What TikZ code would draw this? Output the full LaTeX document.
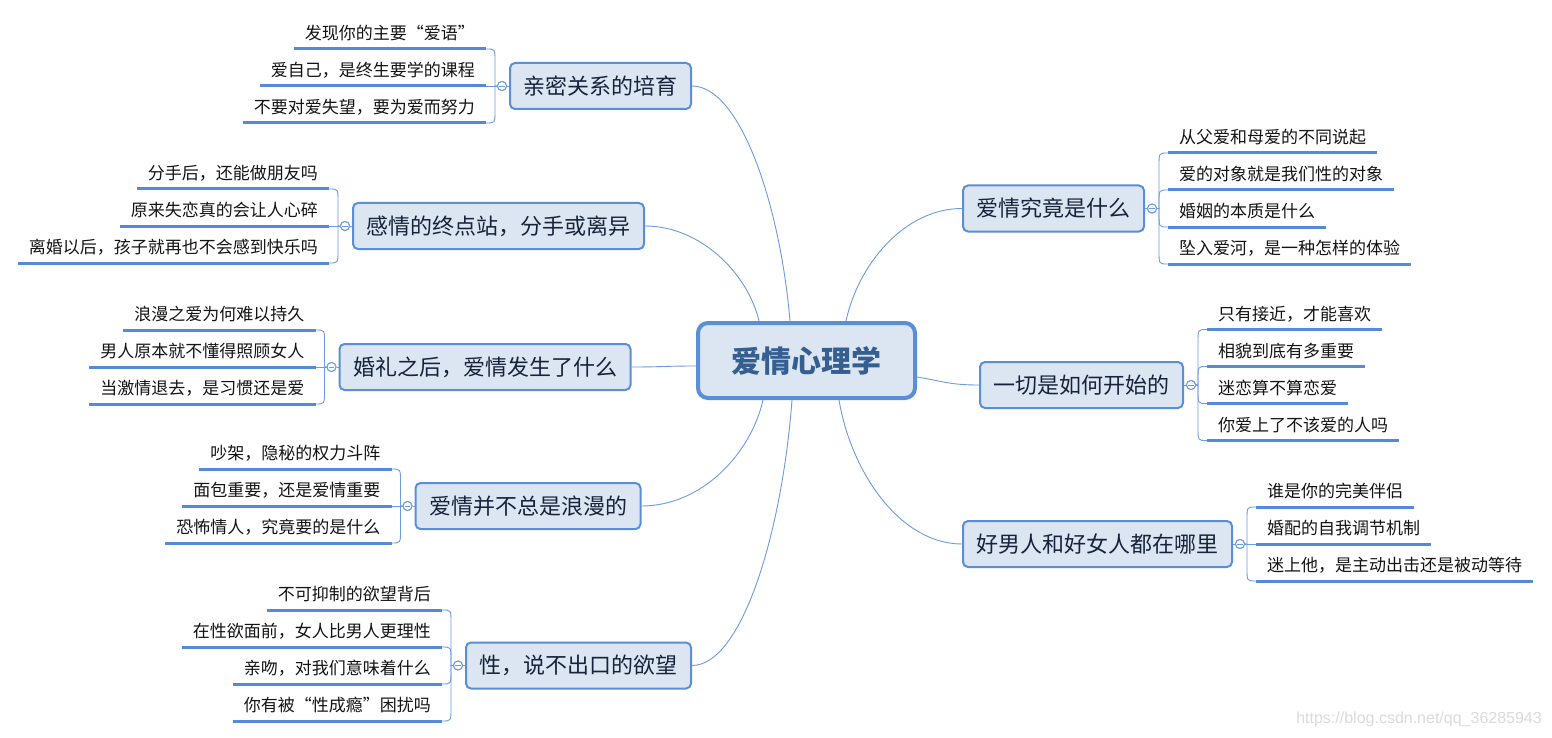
\documentclass[tikz,border=0pt]{standalone}
\usepackage{fontspec}
\setmainfont{Noto Sans CJK SC}
\newfontfamily\wmfont{Liberation Sans}
\definecolor{boxfill}{HTML}{DCE6F2}
\definecolor{boxline}{HTML}{5A8ED6}
\definecolor{roottext}{HTML}{365F91}
\definecolor{topictext}{HTML}{17233B}
\definecolor{leafcol}{HTML}{558BD6}
\definecolor{conncol}{HTML}{6C9BE0}
\definecolor{leaftext}{HTML}{141414}
\tikzset{
  rootbox/.style={draw=boxline, line width=4pt, fill=boxfill, rounded corners=10pt,
    minimum width=217pt, minimum height=75pt, inner sep=0pt,
    font=\fontsize{30}{30}\selectfont\bfseries, text=roottext},
  topicbox/.style={draw=boxline, line width=2pt, fill=boxfill, rounded corners=5pt,
    minimum height=46pt, inner xsep=13.5pt, inner ysep=0pt,
    font=\fontsize{22}{22}\selectfont, text=topictext},
  fold/.style={circle, draw=conncol, line width=1pt, fill=white, minimum size=9pt, inner sep=0pt,
    path picture={\draw[conncol, line width=0.8pt]
      ([xshift=-2.6pt]path picture bounding box.center) -- ([xshift=2.6pt]path picture bounding box.center);}},
  leafbox/.style={font=\fontsize{17}{17}\selectfont, text=leaftext, inner xsep=11pt,
    inner ysep=9pt, text depth=0pt},
  leafline/.style={draw=leafcol, line width=3pt},
  conn/.style={draw=conncol, line width=0.9pt},
  wmark/.style={font=\wmfont\fontsize{16}{16}\selectfont, text=black!14, inner sep=0pt}
}
% brackets: #1 fold node, #2 leaf node
\newcommand\brkUL[2]{\draw[conn] (#1.west) -- ([xshift=9pt]#2.south east |- #1.center) -- ([shift={(9,12)}]#2.south east) .. controls +(0,-12) and +(9,0) .. (#2.south east);}
\newcommand\brkDL[2]{\draw[conn] (#1.west) -- ([xshift=9pt]#2.south east |- #1.center) -- ([shift={(9,-12)}]#2.south east) .. controls +(0,12) and +(9,0) .. (#2.south east);}
\newcommand\brkML[2]{\draw[conn] (#1.west) -- (#2.south east);}
\newcommand\brkUR[2]{\draw[conn] (#1.east) -- ([xshift=-9pt]#2.south west |- #1.center) -- ([shift={(-9,12)}]#2.south west) .. controls +(0,-12) and +(-9,0) .. (#2.south west);}
\newcommand\brkDR[2]{\draw[conn] (#1.east) -- ([xshift=-9pt]#2.south west |- #1.center) -- ([shift={(-9,-12)}]#2.south west) .. controls +(0,12) and +(-9,0) .. (#2.south west);}
\newcommand\brkMR[2]{\draw[conn] (#1.east) -- (#2.south west);}
\newcommand\uline[1]{\draw[leafline] (#1.south west) -- (#1.south east);}

\begin{document}
\begin{tikzpicture}[x=1pt, y=-1pt]
\path[use as bounding box, fill=white] (0,0) rectangle (1552,738);

% root
\node[rootbox] (root) at (806.5,360.5) {爱情心理学};

% topics
\node[topicbox] (t1) at (600.5,86) {亲密关系的培育};
\node[topicbox] (t2) at (498.5,226) {感情的终点站，分手或离异};
\node[topicbox] (t3) at (485,367) {婚礼之后，爱情发生了什么};
\node[topicbox] (t4) at (528,506) {爱情并不总是浪漫的};
\node[topicbox] (t5) at (578.5,665.5) {性，说不出口的欲望};
\node[topicbox] (t6) at (1053.5,208.5) {爱情究竟是什么};
\node[topicbox] (t7) at (1081.5,385) {一切是如何开始的};
\node[topicbox] (t8) at (1097.5,544) {好男人和好女人都在哪里};

% root connectors
\draw[conn] (t1.east) .. controls +(48,0) and +(-10,-117) .. ([xshift=-16.5pt]root.north);
\draw[conn] (t2.east) .. controls +(56,0) and +(-11,-47) .. ([xshift=-47.5pt]root.north);
\draw[conn] (t3.east) .. controls +(30,0) and +(-30,0) .. ([yshift=-5.5pt]root.west);
\draw[conn] (t4.east) .. controls +(61,0) and +(-12,53) .. ([xshift=-43.5pt]root.south);
\draw[conn] (t5.east) .. controls +(50,0) and +(-10,132) .. ([xshift=-14.5pt]root.south);
\draw[conn] (t6.west) .. controls +(-58,0) and +(12,-56) .. ([xshift=39.5pt]root.north);
\draw[conn] (t7.west) .. controls +(-30,0) and +(25,4) .. ([yshift=-16.5pt]root.east);
\draw[conn] (t8.west) .. controls +(-62,0) and +(12,72) .. ([xshift=32.5pt]root.south);

% fold circles
\node[fold] (f1) at ([xshift=-7pt]t1.west) {};
\node[fold] (f2) at ([xshift=-7pt]t2.west) {};
\node[fold] (f3) at ([xshift=-7pt]t3.west) {};
\node[fold] (f4) at ([xshift=-7pt]t4.west) {};
\node[fold] (f5) at ([xshift=-7pt]t5.west) {};
\node[fold] (f6) at ([xshift=7pt]t6.east) {};
\node[fold] (f7) at ([xshift=7pt]t7.east) {};
\node[fold] (f8) at ([xshift=7pt]t8.east) {};
\foreach \k in {1,...,5} {\draw[conn] (t\k.west) -- (f\k.east);}
\foreach \k in {6,7,8} {\draw[conn] (t\k.east) -- (f\k.west);}

% leaves topic 1
\node[leafbox, anchor=south east] (a1) at ([shift={(-16,-37)}]f1.center) {发现你的主要“爱语”};
\node[leafbox, anchor=south east] (a2) at ([shift={(-16,0)}]f1.center) {爱自己，是终生要学的课程};
\node[leafbox, anchor=south east] (a3) at ([shift={(-16,37)}]f1.center) {不要对爱失望，要为爱而努力};
% topic 2
\node[leafbox, anchor=south east] (b1) at ([shift={(-16,-37)}]f2.center) {分手后，还能做朋友吗};
\node[leafbox, anchor=south east] (b2) at ([shift={(-16,0)}]f2.center) {原来失恋真的会让人心碎};
\node[leafbox, anchor=south east] (b3) at ([shift={(-16,37)}]f2.center) {离婚以后，孩子就再也不会感到快乐吗};
% topic 3
\node[leafbox, anchor=south east] (c1) at ([shift={(-16,-37)}]f3.center) {浪漫之爱为何难以持久};
\node[leafbox, anchor=south east] (c2) at ([shift={(-16,0)}]f3.center) {男人原本就不懂得照顾女人};
\node[leafbox, anchor=south east] (c3) at ([shift={(-16,37)}]f3.center) {当激情退去，是习惯还是爱};
% topic 4
\node[leafbox, anchor=south east] (d1) at ([shift={(-16,-37)}]f4.center) {吵架，隐秘的权力斗阵};
\node[leafbox, anchor=south east] (d2) at ([shift={(-16,0)}]f4.center) {面包重要，还是爱情重要};
\node[leafbox, anchor=south east] (d3) at ([shift={(-16,37)}]f4.center) {恐怖情人，究竟要的是什么};
% topic 5
\node[leafbox, anchor=south east] (e1) at ([shift={(-16,-55.5)}]f5.center) {不可抑制的欲望背后};
\node[leafbox, anchor=south east] (e2) at ([shift={(-16,-18.5)}]f5.center) {在性欲面前，女人比男人更理性};
\node[leafbox, anchor=south east] (e3) at ([shift={(-16,18.5)}]f5.center) {亲吻，对我们意味着什么};
\node[leafbox, anchor=south east] (e4) at ([shift={(-16,55.5)}]f5.center) {你有被“性成瘾”困扰吗};
% topic 6
\node[leafbox, anchor=south west] (g1) at ([shift={(16,-55.5)}]f6.center) {从父爱和母爱的不同说起};
\node[leafbox, anchor=south west] (g2) at ([shift={(16,-18.5)}]f6.center) {爱的对象就是我们性的对象};
\node[leafbox, anchor=south west] (g3) at ([shift={(16,18.5)}]f6.center) {婚姻的本质是什么};
\node[leafbox, anchor=south west] (g4) at ([shift={(16,55.5)}]f6.center) {坠入爱河，是一种怎样的体验};
% topic 7
\node[leafbox, anchor=south west] (h1) at ([shift={(16,-55.5)}]f7.center) {只有接近，才能喜欢};
\node[leafbox, anchor=south west] (h2) at ([shift={(16,-18.5)}]f7.center) {相貌到底有多重要};
\node[leafbox, anchor=south west] (h3) at ([shift={(16,18.5)}]f7.center) {迷恋算不算恋爱};
\node[leafbox, anchor=south west] (h4) at ([shift={(16,55.5)}]f7.center) {你爱上了不该爱的人吗};
% topic 8
\node[leafbox, anchor=south west] (k1) at ([shift={(16,-37)}]f8.center) {谁是你的完美伴侣};
\node[leafbox, anchor=south west] (k2) at ([shift={(16,0)}]f8.center) {婚配的自我调节机制};
\node[leafbox, anchor=south west] (k3) at ([shift={(16,37)}]f8.center) {迷上他，是主动出击还是被动等待};

% brackets
\brkUL{f1}{a1} \brkML{f1}{a2} \brkDL{f1}{a3}
\brkUL{f2}{b1} \brkML{f2}{b2} \brkDL{f2}{b3}
\brkUL{f3}{c1} \brkML{f3}{c2} \brkDL{f3}{c3}
\brkUL{f4}{d1} \brkML{f4}{d2} \brkDL{f4}{d3}
\brkUL{f5}{e1} \brkUL{f5}{e2} \brkDL{f5}{e3} \brkDL{f5}{e4}
\brkUR{f6}{g1} \brkUR{f6}{g2} \brkDR{f6}{g3} \brkDR{f6}{g4}
\brkUR{f7}{h1} \brkUR{f7}{h2} \brkDR{f7}{h3} \brkDR{f7}{h4}
\brkUR{f8}{k1} \brkMR{f8}{k2} \brkDR{f8}{k3}

% underlines
\foreach \n in {a1,a2,a3,b1,b2,b3,c1,c2,c3,d1,d2,d3,e1,e2,e3,e4,g1,g2,g3,g4,h1,h2,h3,h4,k1,k2,k3} {\uline{\n}}

% redraw circles on top
\foreach \k in {1,...,8} {\node[fold] at (f\k.center) {};}

% watermark
\node[wmark, anchor=east] (wm) at (1542,719) {https://blog.csdn.net/qq\_36285943};
\end{tikzpicture}
\end{document}
